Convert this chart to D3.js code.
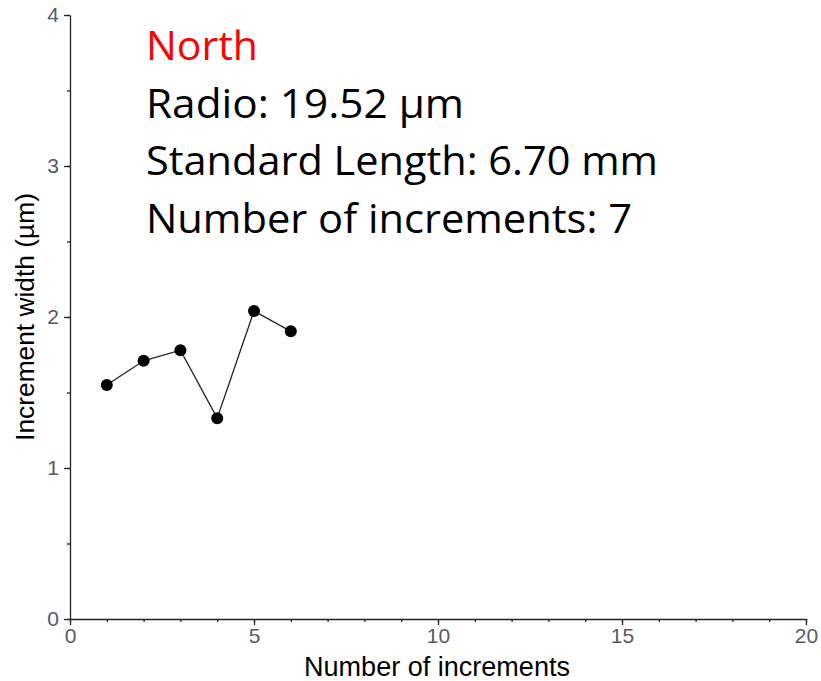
<!DOCTYPE html>
<html>
<head>
<meta charset="utf-8">
<script src="https://cdn.jsdelivr.net/npm/d3@7"></script>
<style>
  body { margin: 0; background: #fff; }
  svg { display: block; }
  .axis path, .axis line { stroke: #222; stroke-width: 1.3px; }
</style>
</head>
<body>
<svg id="chart"></svg>
<script>
// data
var increments = [1, 2, 3, 4, 5, 6];
var widths = [1.55, 1.71, 1.78, 1.33, 2.04, 1.905];
var infoTitle = "North";
var infoLines = ["Radio: 19.52 \u00b5m", "Standard Length: 6.70 mm", "Number of increments: 7"];
var xTicks = [0, 5, 10, 15, 20];
var yTicks = [0, 1, 2, 3, 4];

var width = 821, height = 681;
var svg = d3.select("#chart").attr("width", width).attr("height", height);

var x = d3.scaleLinear().domain([0, 20]).range([70, 806]);
var y = d3.scaleLinear().domain([0, 4]).range([619, 15]);

// fit font size so a text spans the given width
function fitText(sel, target) {
  var w = sel.node().getComputedTextLength();
  var fs = parseFloat(sel.style("font-size"));
  sel.style("font-size", (fs * target / w) + "px");
}

// minor ticks
svg.append("g").attr("class", "axis")
  .attr("transform", "translate(0," + y(0) + ")")
  .call(d3.axisBottom(x).tickValues(d3.range(0, 21, 1)).tickSize(3).tickFormat(""))
  .select(".domain").remove();
svg.append("g").attr("class", "axis")
  .attr("transform", "translate(" + x(0) + ",0)")
  .call(d3.axisLeft(y).tickValues(d3.range(0, 4.01, 0.5)).tickSize(3).tickFormat(""))
  .select(".domain").remove();

// major ticks
var xAxis = svg.append("g").attr("class", "axis")
  .attr("transform", "translate(0," + y(0) + ")")
  .call(d3.axisBottom(x).tickValues(xTicks).tickFormat(d3.format("d")).tickSize(6).tickSizeOuter(0).tickPadding(3));
var yAxis = svg.append("g").attr("class", "axis")
  .attr("transform", "translate(" + x(0) + ",0)")
  .call(d3.axisLeft(y).tickValues(yTicks).tickFormat(d3.format("d")).tickSize(6).tickSizeOuter(0).tickPadding(5));
svg.selectAll(".axis").attr("font-size", 21).attr("font-family", "'Liberation Sans', Arial, sans-serif");
svg.selectAll(".axis text").attr("fill", "#555a66");

// axis titles
var xt = svg.append("text")
  .attr("x", 437).attr("y", 676)
  .attr("text-anchor", "middle")
  .style("font-family", "'Liberation Sans', Arial, sans-serif")
  .style("font-size", "24px")
  .text("Number of increments");
fitText(xt, 266);
var yt = svg.append("text")
  .attr("transform", "translate(34,317) rotate(-90)")
  .attr("text-anchor", "middle")
  .style("font-family", "'Liberation Sans', Arial, sans-serif")
  .style("font-size", "24px")
  .text("Increment width (\u00b5m)");
fitText(yt, 248);

// series
var pts = increments.map(function(d, i) { return [d, widths[i]]; });
svg.append("path")
  .datum(pts)
  .attr("fill", "none")
  .attr("stroke", "#222")
  .attr("stroke-width", 1.3)
  .attr("d", d3.line().x(function(d){ return x(d[0]); }).y(function(d){ return y(d[1]); }));
svg.selectAll("circle.pt")
  .data(pts)
  .enter().append("circle")
  .attr("class", "pt")
  .attr("cx", function(d){ return x(d[0]); })
  .attr("cy", function(d){ return y(d[1]); })
  .attr("r", 6)
  .attr("fill", "#000");

// info text block
var targets = [112, 318, 512, 486]; // widths of each line on the picture
var lines = [infoTitle].concat(infoLines);
lines.forEach(function(t, i) {
  var tx = svg.append("text")
    .attr("x", 146).attr("y", 60 + i * 57.7)
    .style("font-family", "'Open Sans', sans-serif")
    .style("font-size", "40px")
    .attr("fill", i === 0 ? "#ff0000" : "#000")
    .text(t);
  tx.attr("textLength", targets[i]).attr("lengthAdjust", "spacingAndGlyphs");
});
</script>
</body>
</html>
